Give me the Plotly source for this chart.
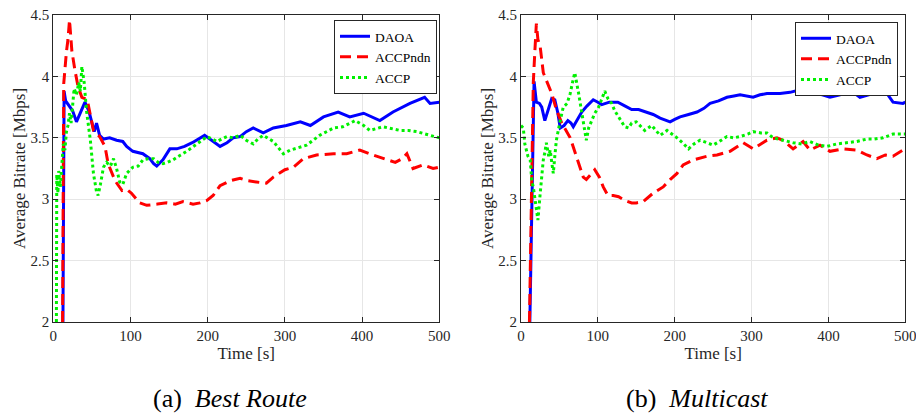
import plotly.graph_objects as go

# ---------------- (a) Best Route ----------------
a_daoa_t = [12.5, 14, 16, 20, 25, 30, 35, 41, 46, 51, 53, 56, 60, 65, 73, 82, 90, 95, 103, 116, 125, 130, 134, 142,
            151, 160, 170, 180, 190, 196, 205, 216, 225, 233, 242, 250, 259, 272, 285, 302, 320, 333, 350, 369,
            384, 402, 423, 440, 462, 481, 488, 500]
a_daoa_v = [2.0, 3.88, 3.80, 3.76, 3.72, 3.63, 3.70, 3.79, 3.72, 3.59, 3.55, 3.62, 3.52, 3.49, 3.50, 3.48, 3.47,
            3.43, 3.39, 3.37, 3.33, 3.29, 3.27, 3.32, 3.41, 3.41, 3.43, 3.46, 3.50, 3.52, 3.48, 3.43, 3.46, 3.50,
            3.51, 3.55, 3.58, 3.54, 3.58, 3.60, 3.63, 3.60, 3.67, 3.71, 3.67, 3.70, 3.64, 3.71, 3.78, 3.83, 3.78, 3.79]

a_ndn_t = [12, 13.5, 17, 19, 21, 24, 28, 32, 37, 44, 52, 60, 67, 71, 80, 89, 95, 101, 112, 121, 135, 147, 158, 168,
           181, 190, 199, 207, 216, 229, 242, 252, 263, 276, 285, 300, 311, 324, 341, 363, 380, 397, 414, 432,
           443, 452, 458, 466, 479, 492, 500]
a_ndn_v = [2.0, 3.94, 4.20, 4.30, 4.46, 4.21, 4.05, 3.92, 3.83, 3.81, 3.56, 3.51, 3.43, 3.29, 3.15, 3.07, 3.08,
           3.05, 2.97, 2.95, 2.96, 2.97, 2.96, 2.98, 2.96, 2.97, 2.99, 3.03, 3.11, 3.15, 3.17, 3.15, 3.14, 3.13,
           3.18, 3.24, 3.26, 3.33, 3.36, 3.37, 3.37, 3.40, 3.36, 3.32, 3.30, 3.33, 3.37, 3.25, 3.28, 3.25, 3.26]

a_accp_t = [4, 4.5, 6, 7, 9, 11, 13, 15, 17, 19, 21, 23, 25, 27, 30, 33, 35, 37, 40, 43, 48, 52, 56, 58, 61, 65,
            69, 74, 78, 82, 86, 90, 95, 103, 110, 116, 123, 130, 136, 142, 148, 155, 165, 173, 186, 199, 206,
            212, 218, 225, 233, 242, 250, 259, 265, 272, 285, 298, 307, 318, 328, 345, 363, 375, 391, 402, 410,
            427, 440, 449, 460, 471, 488, 500]
a_accp_v = [2.0, 3.20, 3.05, 3.23, 3.10, 3.30, 3.45, 3.40, 3.55, 3.60, 3.70, 3.62, 3.75, 3.90, 3.85, 3.95, 3.88,
            4.08, 3.95, 3.72, 3.48, 3.21, 3.06, 3.03, 3.12, 3.26, 3.30, 3.27, 3.33, 3.25, 3.14, 3.12, 3.21, 3.26,
            3.27, 3.32, 3.33, 3.33, 3.30, 3.29, 3.30, 3.32, 3.36, 3.39, 3.45, 3.51, 3.49, 3.47, 3.49, 3.51, 3.50,
            3.52, 3.48, 3.45, 3.49, 3.52, 3.47, 3.37, 3.40, 3.42, 3.44, 3.52, 3.58, 3.59, 3.64, 3.60, 3.56, 3.59,
            3.57, 3.56, 3.56, 3.55, 3.52, 3.50]

# ---------------- (b) Multicast ----------------
b_daoa_t = [11.5, 17, 20, 24, 27, 31, 35, 40, 44, 48, 51, 56, 61, 65, 68, 73, 79, 86, 94, 100, 105, 115, 126, 135,
            144, 153, 163, 172, 181, 194, 200, 207, 218, 229, 238, 246, 257, 268, 277, 285, 302, 311, 320, 337,
            350, 363, 380, 392, 402, 415, 428, 441, 458, 474, 484, 497, 500]
b_daoa_v = [2.0, 3.96, 3.79, 3.78, 3.75, 3.64, 3.72, 3.82, 3.81, 3.70, 3.58, 3.60, 3.64, 3.62, 3.59, 3.65, 3.71,
            3.76, 3.81, 3.79, 3.77, 3.79, 3.79, 3.76, 3.73, 3.73, 3.71, 3.69, 3.66, 3.63, 3.65, 3.67, 3.69, 3.71,
            3.74, 3.78, 3.80, 3.83, 3.84, 3.85, 3.83, 3.85, 3.86, 3.86, 3.87, 3.89, 3.86, 3.85, 3.83, 3.85, 3.89,
            3.83, 3.86, 3.88, 3.79, 3.78, 3.79]

b_ndn_t = [11, 16, 18, 20, 22, 25, 29, 36, 40, 46, 53, 64, 72, 81, 85, 91, 96, 102, 107, 113, 120, 127, 135, 144,
           150, 159, 172, 185, 194, 203, 211, 224, 242, 255, 272, 289, 302, 320, 333, 341, 354, 367, 376, 389,
           402, 419, 437, 450, 463, 474, 484, 497, 500]
b_ndn_v = [2.0, 3.95, 4.20, 4.43, 4.30, 4.24, 4.03, 3.92, 3.86, 3.73, 3.62, 3.50, 3.35, 3.18, 3.16, 3.20, 3.24,
           3.18, 3.10, 3.03, 3.03, 3.02, 2.99, 2.97, 2.97, 2.98, 3.05, 3.10, 3.16, 3.21, 3.28, 3.32, 3.35, 3.36,
           3.39, 3.46, 3.41, 3.48, 3.50, 3.48, 3.41, 3.47, 3.40, 3.44, 3.39, 3.41, 3.40, 3.36, 3.33, 3.36, 3.35,
           3.40, 3.40]

b_accp_t = [0, 3, 5, 7, 9, 12, 14, 16, 18, 20, 22, 25, 27, 29, 31, 33, 36, 38, 40, 42, 44, 46, 51, 55, 60, 64, 67,
            70, 75, 81, 85, 88, 92, 96, 101, 105, 109, 113, 118, 122, 127, 135, 140, 144, 150, 155, 161, 170,
            181, 190, 197, 203, 210, 218, 225, 233, 242, 250, 258, 268, 277, 285, 295, 302, 312, 320, 328, 340,
            354, 365, 376, 387, 398, 411, 424, 437, 450, 460, 471, 484, 497, 500]
b_accp_v = [3.60, 3.58, 3.45, 3.40, 3.35, 3.32, 3.15, 3.10, 3.00, 2.90, 2.83, 3.05, 3.20, 3.32, 3.38, 3.46, 3.35,
            3.40, 3.30, 3.21, 3.35, 3.48, 3.64, 3.75, 3.78, 3.86, 3.95, 4.03, 3.86, 3.64, 3.48, 3.58, 3.64, 3.70,
            3.75, 3.82, 3.88, 3.82, 3.78, 3.72, 3.67, 3.59, 3.58, 3.62, 3.63, 3.60, 3.56, 3.60, 3.52, 3.56, 3.53,
            3.50, 3.46, 3.41, 3.45, 3.48, 3.46, 3.44, 3.47, 3.51, 3.50, 3.51, 3.53, 3.55, 3.54, 3.54, 3.50, 3.48,
            3.46, 3.45, 3.47, 3.44, 3.43, 3.45, 3.46, 3.47, 3.49, 3.49, 3.50, 3.53, 3.53, 3.53]

series_names = ["DAOA", "ACCPndn", "ACCP"]
x_ticks = [0, 100, 200, 300, 400, 500]
y_ticks = [2, 2.5, 3, 3.5, 4, 4.5]
captions = ["(a)  <i>Best Route</i>", "(b)  <i>Multicast</i>"]

FONT = "Liberation Serif"
styles = [
    dict(color="#0000ff", width=3, dash="solid"),
    dict(color="#ff0000", width=3, dash="11px,6px"),
    dict(color="#00f000", width=3, dash="3px,3px"),
]

fig = go.Figure()

panels = [
    ([(a_daoa_t, a_daoa_v), (a_ndn_t, a_ndn_v), (a_accp_t, a_accp_v)], "x", "y", "legend"),
    ([(b_daoa_t, b_daoa_v), (b_ndn_t, b_ndn_v), (b_accp_t, b_accp_v)], "x2", "y2", "legend2"),
]
for data, xa, ya, lg in panels:
    for (t, v), name, st in zip(data, series_names, styles):
        fig.add_trace(go.Scatter(x=t, y=v, mode="lines", name=name, line=st,
                                 xaxis=xa, yaxis=ya, legend=lg, showlegend=True))

W, H = 916, 415
xdom = [[53.3 / W, 439.3 / W], [521 / W, 905.3 / W]]
ydom = [1 - 322 / H, 1 - 15 / H]

axis_common = dict(
    showline=True, linecolor="#262626", linewidth=1, mirror="ticks",
    ticks="inside", ticklen=5, tickcolor="#262626",
    showgrid=True, gridcolor="#e6e6e6", gridwidth=1, zeroline=False,
    tickfont=dict(family=FONT, size=15, color="#262626"), automargin=False,
    ticklabeloverflow="allow",
)

for i, (xk, yk) in enumerate([("xaxis", "yaxis"), ("xaxis2", "yaxis2")]):
    anchor_y = "y" if i == 0 else "y2"
    anchor_x = "x" if i == 0 else "x2"
    fig.layout[xk] = dict(axis_common, domain=xdom[i], anchor=anchor_y, range=[0, 500],
                          tickvals=x_ticks, ticktext=[str(v) for v in x_ticks],
                          title=dict(text="Time [s]", font=dict(family=FONT, size=17, color="#262626"), standoff=0))
    fig.layout[yk] = dict(axis_common, domain=ydom, anchor=anchor_x, range=[2, 4.5],
                          tickvals=y_ticks, ticktext=[("%g" % v) for v in y_ticks],
                          title=dict(text="Average Bitrate [Mbps]", font=dict(family=FONT, size=17, color="#262626"), standoff=0))

legend_common = dict(
    bgcolor="white", bordercolor="#262626", borderwidth=1,
    font=dict(family=FONT, size=13.5, color="#000000"),
    xanchor="right", yanchor="top", itemwidth=30, tracegroupgap=0,
)
fig.update_layout(
    legend=dict(legend_common, x=437 / W, y=1 - 20 / H),
    legend2=dict(legend_common, x=898 / W, y=1 - 22 / H),
)

for cx, text in zip([230 / W, 697 / W], captions):
    fig.add_annotation(x=cx, y=0, xref="paper", yref="paper", text=text, showarrow=False,
                       font=dict(family=FONT, size=26, color="#000000"), xanchor="center", yanchor="bottom")

fig.update_layout(
    width=W, height=H, margin=dict(l=0, r=0, t=0, b=0),
    paper_bgcolor="white", plot_bgcolor="white",
)

fig.write_html("out.html", post_script="document.body.style.margin='0px';",
               config={"displayModeBar": False})
